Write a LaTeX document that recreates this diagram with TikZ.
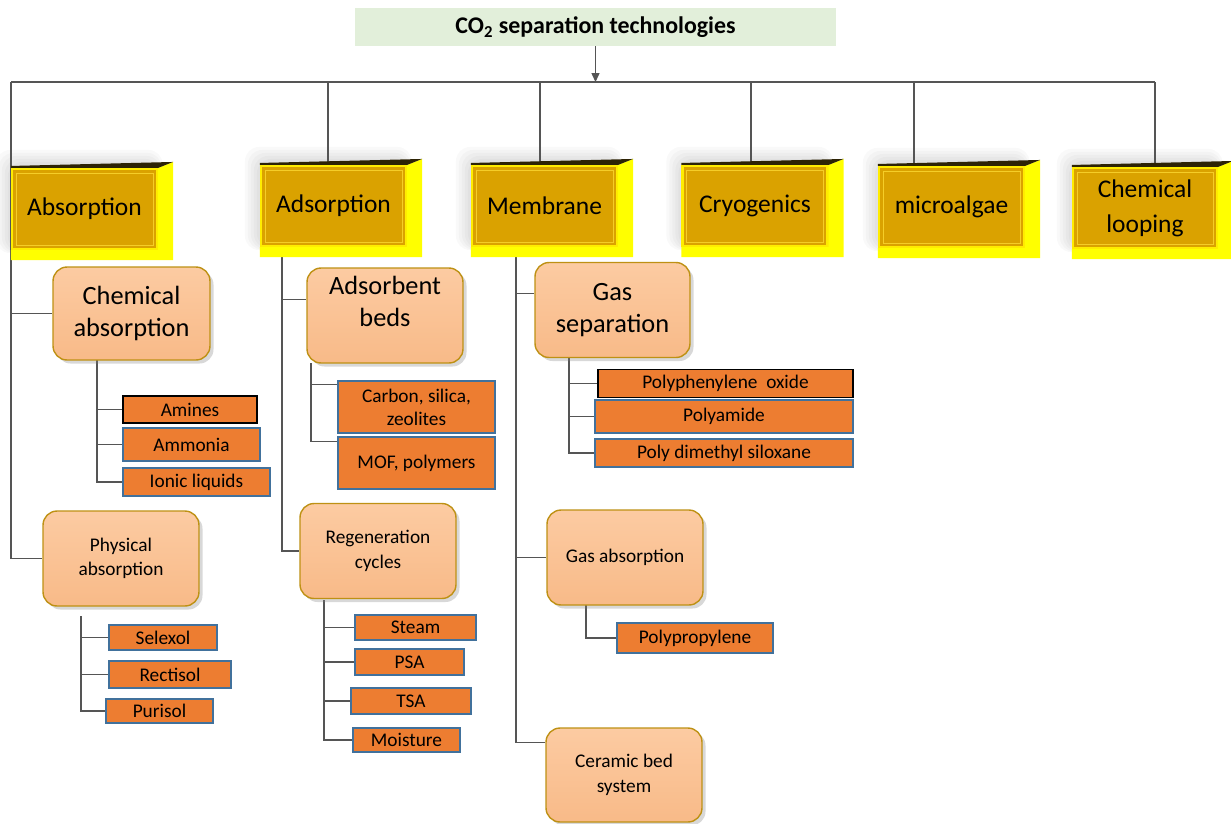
\documentclass[tikz,border=0pt]{standalone}
\usepackage{fontspec}
\setmainfont{Carlito}
\usetikzlibrary{arrows.meta, calc, shadows, backgrounds}
\definecolor{titlegreen}{RGB}{226,239,218}
\definecolor{facegold}{RGB}{218,162,0}
\definecolor{rimyellow}{RGB}{255,236,0}
\definecolor{sideyellow}{RGB}{255,255,0}
\definecolor{bevdark}{RGB}{45,35,5}
\definecolor{innerrim}{RGB}{245,205,40}
\definecolor{methtop}{RGB}{252,203,162}
\definecolor{methbot}{RGB}{248,186,136}
\definecolor{rimgold}{RGB}{190,145,20}
\definecolor{leaforange}{RGB}{237,125,49}
\definecolor{leafblue}{RGB}{65,113,156}
\definecolor{linegray}{RGB}{85,85,85}
\tikzset{
  conn/.style={draw=linegray, line width=0.6pt},
  arrow/.style={-{Triangle[length=5pt, width=4.5pt]}},
  titlebox/.style={rectangle, fill=titlegreen, minimum width=9.62cm, minimum height=0.76cm, font=\fontsize{13.6}{16}\selectfont\bfseries},
  techbox/.style={rectangle, fill=facegold, draw=rimyellow, line width=1.2pt, minimum width=2.9cm, minimum height=1.6cm, align=center, font=\fontsize{14.5}{20}\selectfont},
  haze/.style={fill=black, opacity=0.022, rounded corners=8pt},
  methbox/.style={rectangle, rounded corners=8pt, draw=rimgold, line width=0.8pt, top color=methtop, bottom color=methbot, drop shadow={shadow xshift=2pt, shadow yshift=-2pt, opacity=0.3}, minimum width=3.12cm, minimum height=1.9cm, align=center},
  bigtxt/.style={font=\fontsize{15}{18}\selectfont},
  smalltxt/.style={font=\fontsize{11}{14}\selectfont},
  leaf/.style={rectangle, fill=leaforange, draw=leafblue, line width=0.9pt, inner sep=1pt, align=center, font=\fontsize{11}{13}\selectfont, minimum width=#1, minimum height=0.54cm},
  darkleaf/.style={leaf=#1, draw=black}
}
% 3D frame round a technology box
\newcommand{\techbevel}[1]{
  \fill[sideyellow] (#1.north east) -- ($(#1.north east)+(15,-6)$) -- ($(#1.south east)+(15,10)$)
    -- ($(#1.south west)+(0,10)$) -- (#1.south west) -- (#1.south east) -- cycle;
  \fill[bevdark] (#1.north west) -- (#1.north east) -- ($(#1.north east)+(15,-6)$) -- ($(#1.north west)+(0,-2)$) -- cycle;
  \draw[innerrim, line width=0.5pt] ($(#1.north west)+(5,5)$) rectangle ($(#1.south east)+(-5,-5)$);
}

\begin{document}
\begin{tikzpicture}[x=0.02cm, y=-0.02cm]
  \useasboundingbox (0,0) rectangle (1231,823);

  % root
  \node[titlebox] (title) at (595.5,27) {CO\textsubscript{2} separation technologies};

  % technologies
  \node[techbox] (abs) at (84.5,209) {Absorption};
  \node[techbox] (ads) at (333.5,206) {Adsorption};
  \node[techbox] (mem) at (544.5,206) {Membrane};
  \node[techbox] (cryo) at (755,206) {Cryogenics};
  \node[techbox] (algae) at (951.5,207) {microalgae};
  \node[techbox, minimum width=2.88cm] (loop) at (1145,208) {Chemical\\looping};
  \foreach \n in {abs, ads, mem, cryo, algae, loop} {\techbevel{\n}}

  % absorption
  \node[methbox, bigtxt, minimum width=3.14cm, minimum height=1.86cm] (chem) at (131.5,313.5) {Chemical\\absorption};
  \node[darkleaf=2.68cm] (amines) at (190,409.5) {Amines};
  \node[leaf=2.74cm, minimum height=0.66cm] (ammonia) at (191.5,444.5) {Ammonia};
  \node[leaf=2.94cm, minimum height=0.56cm] (ionic) at (196.5,482) {Ionic liquids};
  \node[methbox, smalltxt] (phys) at (121,558.5) {Physical\\absorption};
  \node[leaf=2.16cm, minimum height=0.5cm] (selexol) at (163,637.5) {Selexol};
  \node[leaf=2.44cm] (rectisol) at (170,674.5) {Rectisol};
  \node[leaf=2.14cm, minimum height=0.48cm] (purisol) at (159.5,711) {Purisol};

  % adsorption
  \node[methbox] (beds) at (385,315.5) {};
  \node[bigtxt, align=center] (bedstext) at ($(beds.center)+(0,-14)$) {Adsorbent\\beds};
  \node[leaf=3.14cm, minimum height=1.04cm] (carbon) at (416.5,407) {Carbon, silica,\\zeolites};
  \node[leaf=3.14cm, minimum height=1.04cm] (mof) at (416.5,463) {MOF, polymers};
  \node[methbox, smalltxt] (regen) at (378,551) {Regeneration\\cycles};
  \node[leaf=2.42cm, minimum height=0.5cm] (steam) at (415.5,627.5) {Steam};
  \node[leaf=2.18cm, minimum height=0.52cm] (psa) at (409.5,662) {PSA};
  \node[leaf=2.4cm, minimum height=0.52cm] (tsa) at (411,701) {TSA};
  \node[leaf=2.14cm, minimum height=0.48cm] (moist) at (406.5,740) {Moisture};

  % membrane
  \node[methbox, bigtxt, minimum width=3.1cm] (gassep) at (612.5,310) {Gas\\separation};
  \node[darkleaf=5.1cm, minimum height=0.56cm] (ppo) at (725.5,383.5) {Polyphenylene~ oxide};
  \node[leaf=5.16cm, minimum height=0.66cm] (pa) at (724,416.5) {Polyamide};
  \node[leaf=5.16cm, minimum height=0.56cm] (pdms) at (724,453) {Poly dimethyl siloxane};
  \node[methbox, smalltxt] (gasabs) at (625,557.5) {Gas absorption};
  \node[leaf=3.12cm, minimum height=0.6cm] (pp) at (695,638) {Polypropylene};
  \node[methbox, smalltxt, minimum height=1.88cm] (ceramic) at (624,775) {Ceramic bed\\system};

  % connectors
  \coordinate (busL) at (11,82);
  \coordinate (busR) at (1155,82);
  \coordinate (j2) at (328,82);
  \coordinate (j3) at (540,82);
  \coordinate (j4) at (751,82);
  \coordinate (j5) at (914,82);
  \coordinate (chemT) at (97,360);
  \coordinate (physT) at (81,616);
  \coordinate (adsT) at (282,246);
  \coordinate (bedsT) at (311,363);
  \coordinate (regenT) at (324,600);
  \coordinate (memT) at (516,246);
  \coordinate (gsT) at (569,358);
  \coordinate (gaT) at (586,605);
  \coordinate (bedsIn) at ($(beds.north west)+(0,32)$);
  \coordinate (carbIn) at ($(carbon.north west)+(0,4)$);
  \coordinate (mofIn) at ($(mof.north west)+(0,5)$);
  \coordinate (gsIn) at ($(gassep.north west)+(0,32)$);
  \coordinate (ceramIn) at ($(ceramic.north west)+(0,15)$);

  \begin{scope}[on background layer]
    \fill[white] (0,0) rectangle (1231,823);
    % soft haze behind the technology boxes
    \foreach \n in {abs, ads, mem, cryo, algae, loop}
      \foreach \d in {3,6,...,15}
        \fill[haze] ($(\n.north west)+(-\d,-\d-3)$) rectangle ($(\n.south east)+(0.3*\d,0.2*\d)$);
    \draw[conn, arrow] (title) -- (title |- busL);
    \draw[conn] (busL) -- (busR);
    \foreach \j/\n in {j2/ads, j3/mem, j4/cryo, j5/algae, busR/loop}
      \draw[conn] (\j) -- (\j |- \n.north);

    % absorption branch
    \draw[conn] (busL) |- (phys.west);
    \draw[conn] (chem.west -| busL) -- (chem.west);
    \draw[conn] (chemT) |- (ionic.west);
    \foreach \n in {amines, ammonia}
      \draw[conn] (chemT |- \n.west) -- (\n.west);
    \draw[conn] (physT) |- (purisol.west);
    \foreach \n in {selexol, rectisol}
      \draw[conn] (physT |- \n.west) -- (\n.west);

    % adsorption branch
    \draw[conn] (adsT) |- (regen.west);
    \draw[conn] (bedsIn -| adsT) -- (bedsIn);
    \draw[conn] (bedsT) |- (mofIn);
    \draw[conn] (carbIn -| bedsT) -- (carbIn);
    \draw[conn] (regenT) |- (moist.west);
    \foreach \n in {steam, psa, tsa}
      \draw[conn] (regenT |- \n.west) -- (\n.west);

    % membrane branch
    \draw[conn] (memT) |- (ceramIn);
    \draw[conn] (gsIn -| memT) -- (gsIn);
    \draw[conn] (gasabs.west -| memT) -- (gasabs.west);
    \draw[conn] (gsT) |- (pdms.west);
    \foreach \n in {ppo, pa}
      \draw[conn] (gsT |- \n.west) -- (\n.west);
    \draw[conn] (gaT) |- (pp.west);
  \end{scope}
\end{tikzpicture}
\end{document}
